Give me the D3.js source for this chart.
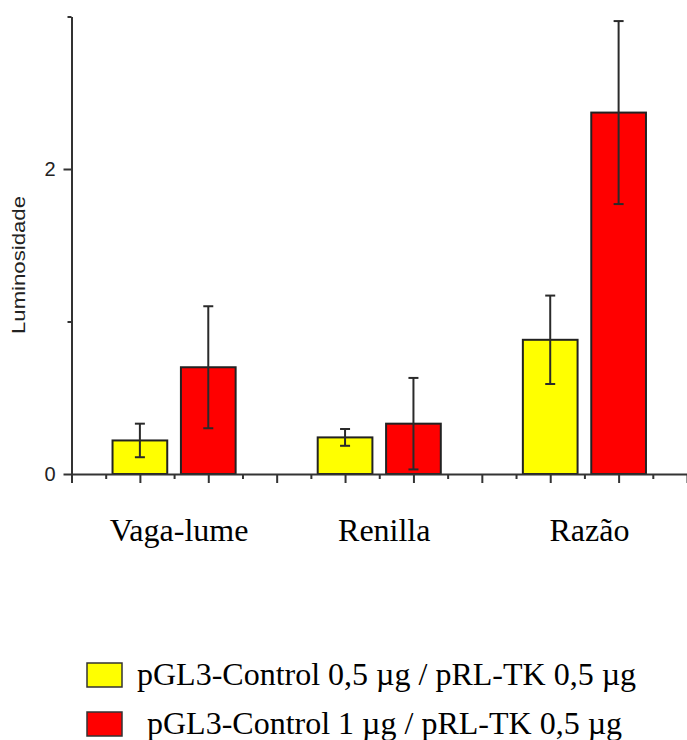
<!DOCTYPE html>
<html>
<head>
<meta charset="utf-8">
<script src="https://cdn.jsdelivr.net/npm/d3@7"></script>
<style>
  html, body { margin: 0; padding: 0; background: #fff; }
  svg { display: block; }
</style>
</head>
<body>
<svg id="chart" width="687" height="740"></svg>
<script>
// ---- data ----
const categories = ["Vaga-lume", "Renilla", "Razão"];
const seriesNames = ["pGL3-Control 0,5 µg / pRL-TK 0,5 µg", "pGL3-Control 1 µg / pRL-TK 0,5 µg"];
const seriesColors = ["#ffff00", "#ff0000"];
const yellowValues = [0.22, 0.24, 0.88];
const yellowErrors = [0.11, 0.055, 0.29];
const redValues = [0.70, 0.33, 2.37];
const redErrors = [0.40, 0.30, 0.60];
const yLabelTicks = [0, 2];
const yMinorTicks = [1, 3];
const yAxisTitle = "Luminosidade";

const svg = d3.select("#chart");

// slot-based x scale (19 tick positions, 0..18)
const x = d3.scaleLinear().domain([0, 18]).range([71.5, 687]);
const y = d3.scaleLinear().domain([0, 3]).range([474, 16.5]);
const groupCenter = [3, 9, 15];
const barOffset = [-1, 1];
const barW = x(1.6) - x(0);

const series = [
  { values: yellowValues, errors: yellowErrors },
  { values: redValues, errors: redErrors }
];

// bars
const bars = [];
series.forEach((s, si) => {
  s.values.forEach((v, ci) => {
    bars.push({ si, ci, v, e: s.errors[ci], cx: x(groupCenter[ci] + barOffset[si]) });
  });
});

svg.append("g").selectAll("rect").data(bars).join("rect")
  .attr("x", d => d.cx - barW / 2)
  .attr("y", d => y(d.v))
  .attr("width", barW)
  .attr("height", d => y(0) - y(d.v))
  .attr("fill", d => seriesColors[d.si])
  .attr("stroke", "#222")
  .attr("stroke-width", 2);

// error bars
const eg = svg.append("g").attr("stroke", "#2a2a2a").attr("stroke-width", 2);
eg.selectAll("line.v").data(bars).join("line").attr("class", "v")
  .attr("x1", d => d.cx).attr("x2", d => d.cx)
  .attr("y1", d => y(d.v + d.e)).attr("y2", d => y(d.v - d.e));
eg.selectAll("line.t").data(bars).join("line").attr("class", "t")
  .attr("x1", d => d.cx - 5).attr("x2", d => d.cx + 5)
  .attr("y1", d => y(d.v + d.e)).attr("y2", d => y(d.v + d.e));
eg.selectAll("line.b").data(bars).join("line").attr("class", "b")
  .attr("x1", d => d.cx - 5).attr("x2", d => d.cx + 5)
  .attr("y1", d => y(d.v - d.e)).attr("y2", d => y(d.v - d.e));

// axes
function styleAxis(g) {
  g.selectAll("path, line").attr("stroke", "#333").attr("stroke-width", 2);
}
const xMajor = d3.range(0, 19, 2);
const xMinor = d3.range(1, 19, 2);
svg.append("g").attr("transform", `translate(0,${y(0)})`)
  .call(d3.axisBottom(x).tickValues(xMajor).tickSize(9).tickSizeOuter(0).tickFormat(""))
  .call(styleAxis);
svg.append("g").attr("transform", `translate(0,${y(0)})`)
  .call(d3.axisBottom(x).tickValues(xMinor).tickSize(5).tickSizeOuter(0).tickFormat(""))
  .call(g => g.select(".domain").remove())
  .call(styleAxis);

svg.append("g").attr("transform", `translate(${x(0)},0)`)
  .call(d3.axisLeft(y).tickValues(yLabelTicks).tickSize(8).tickSizeOuter(0).tickPadding(8).tickFormat(d3.format("d")))
  .call(styleAxis)
  .call(g => g.selectAll("text").attr("font-family", "Liberation Sans, Arial, sans-serif")
    .attr("font-size", 20).attr("fill", "#222"));
svg.append("g").attr("transform", `translate(${x(0)},0)`)
  .call(d3.axisLeft(y).tickValues(yMinorTicks).tickSize(4).tickSizeOuter(0).tickFormat(""))
  .call(g => g.select(".domain").remove())
  .call(styleAxis);

// y title
svg.append("text")
  .attr("transform", `translate(25,${265}) rotate(-90)`)
  .attr("text-anchor", "middle")
  .attr("font-family", "Liberation Sans, Arial, sans-serif")
  .attr("font-size", 18)
  .attr("textLength", 138)
  .attr("lengthAdjust", "spacingAndGlyphs")
  .attr("fill", "#222")
  .text(yAxisTitle);

// category labels
svg.append("g").selectAll("text").data(categories).join("text")
  .attr("x", (d, i) => x(groupCenter[i]) + 5)
  .attr("y", 541)
  .attr("text-anchor", "middle")
  .attr("font-family", "Liberation Serif, Times New Roman, serif")
  .attr("font-size", 32)
  .attr("fill", "#000")
  .text(d => d);

// legend
const legendY = [663, 712];
const legendTextX = [137, 147];
const lg = svg.append("g");
lg.selectAll("rect").data(seriesNames).join("rect")
  .attr("x", 87).attr("y", (d, i) => legendY[i])
  .attr("width", 35).attr("height", 24)
  .attr("fill", (d, i) => seriesColors[i])
  .attr("stroke", "#333").attr("stroke-width", 1.5);
lg.selectAll("text").data(seriesNames).join("text")
  .attr("x", (d, i) => legendTextX[i])
  .attr("y", (d, i) => legendY[i] + 22)
  .attr("font-family", "Liberation Serif, Times New Roman, serif")
  .attr("font-size", 32)
  .attr("fill", "#000")
  .text(d => d);
</script>
</body>
</html>
